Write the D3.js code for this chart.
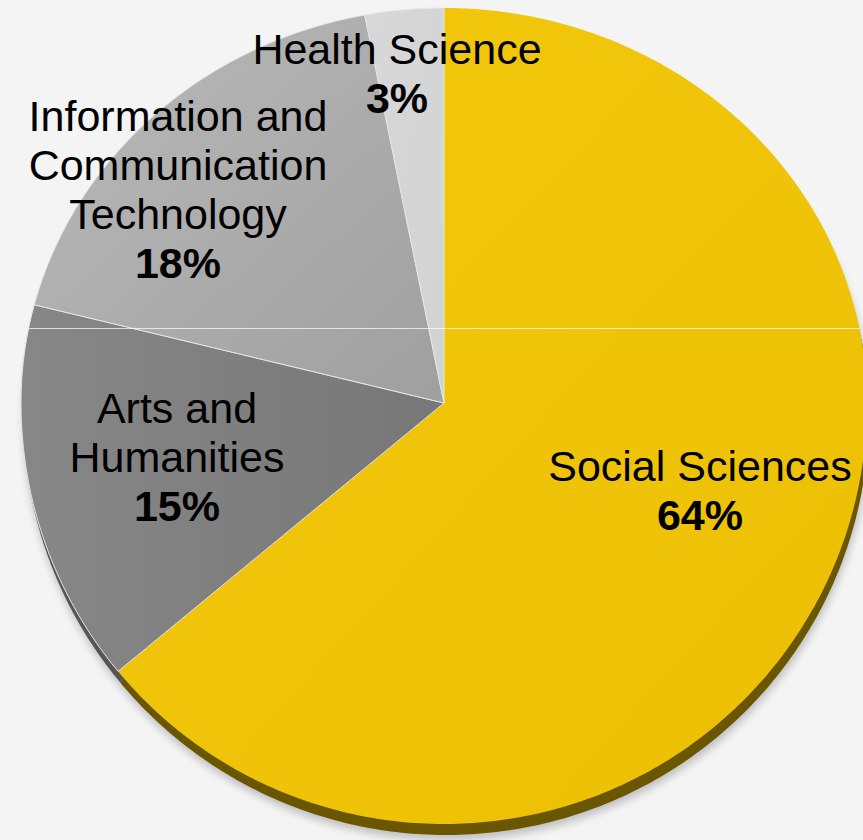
<!DOCTYPE html>
<html>
<head>
<meta charset="utf-8">
<script src="https://cdn.jsdelivr.net/npm/d3@7"></script>
<style>
  html, body { margin: 0; padding: 0; background: #f4f4f4; }
  svg { display: block; }
  text { font-family: "Liberation Sans", Arial, sans-serif; fill: #000; }
</style>
</head>
<body>
<svg id="chart" width="863" height="840"></svg>
<script>
// ---- data ----
const categories = ["Social Sciences", "Arts and Humanities", "Information and Communication Technology", "Health Science"];
const values = [64, 15, 18, 3];
const labelLines = [
  ["Social Sciences"],
  ["Arts and", "Humanities"],
  ["Information and", "Communication", "Technology"],
  ["Health Science"]
];
const percentLabels = ["64%", "15%", "18%", "3%"];

// ---- layout ----
const W = 863, H = 840;
const cx = 444, cy = 403;
const rx = 423, ryTop = 395, ryBot = 421;
const fills = ["url(#gY)", "url(#gA)", "url(#gI)", "url(#gH)"];
const sideFills = ["#6a5600", "#555555", "#666666", "#888888"];
const labelPos = [
  { x: 700, y: 481 },
  { x: 177, y: 423 },
  { x: 178, y: 131 },
  { x: 397, y: 64 }
];
const lineH = 49;

const svg = d3.select("#chart");
svg.append("rect").attr("width", W).attr("height", H).attr("fill", "#f4f4f4");

const defs = svg.append("defs");
function lin(id, x1, y1, x2, y2, stops) {
  const g = defs.append("linearGradient").attr("id", id)
    .attr("x1", x1).attr("y1", y1).attr("x2", x2).attr("y2", y2);
  stops.forEach(s => g.append("stop").attr("offset", s[0]).attr("stop-color", s[1]));
}
lin("gY", "0", "0", "1", "1", [[0, "#f3c90c"], [1, "#ecbf04"]]);
lin("gA", "0", "0", "1", "0", [[0, "#878787"], [1, "#777777"]]);
lin("gI", "0", "0", "1", "1", [[0, "#bababa"], [1, "#9f9f9f"]]);
lin("gH", "0", "0", "1", "1", [[0, "#d8d8d8"], [1, "#d2d2d2"]]);
const f = defs.append("filter").attr("id", "blur").attr("x", "-10%").attr("y", "-10%").attr("width", "120%").attr("height", "120%");
f.append("feGaussianBlur").attr("stdDeviation", 4);

const pie = d3.pie().sort(null).value(d => d)(values);

function pt(a, ox = 0, oy = 0) {
  const c = Math.cos(a), s = Math.sin(a);
  const ry = c > 0 ? ryTop : ryBot;
  return [cx + ox + rx * s, cy + oy - ry * c];
}
function slicePath(d, ox = 0, oy = 0) {
  const p = d3.path();
  p.moveTo(cx + ox, cy + oy);
  const n = Math.max(8, Math.ceil((d.endAngle - d.startAngle) * 80));
  for (let i = 0; i <= n; i++) {
    const a = d.startAngle + (d.endAngle - d.startAngle) * i / n;
    const q = pt(a, ox, oy);
    p.lineTo(q[0], q[1]);
  }
  p.closePath();
  return p.toString();
}
const whole = { startAngle: 0, endAngle: 2 * Math.PI };

// soft shadow
svg.append("path").attr("d", slicePath(whole, 3, 16))
  .attr("fill", "#000").attr("opacity", 0.22).attr("filter", "url(#blur)");

// extrusion (side)
svg.append("g").selectAll("path").data(pie).join("path")
  .attr("d", d => slicePath(d, 2, 11))
  .attr("fill", (d, i) => sideFills[i]);

// top faces
svg.append("g").selectAll("path").data(pie).join("path")
  .attr("d", d => slicePath(d))
  .attr("fill", (d, i) => fills[i])
  .attr("stroke", (d, i) => i === 0 ? "none" : "#e6e6e6")
  .attr("stroke-width", 1)
  .attr("stroke-linejoin", "round");

// faint horizontal highlight line across the pie
defs.append("clipPath").attr("id", "pieClip").append("path").attr("d", slicePath(whole));
svg.append("line").attr("x1", 0).attr("x2", W).attr("y1", 328.5).attr("y2", 328.5)
  .attr("stroke", "#ffffff").attr("stroke-opacity", 0.7).attr("stroke-width", 1)
  .attr("clip-path", "url(#pieClip)");

// labels
const lg = svg.append("g");
pie.forEach((d, i) => {
  const t = lg.append("text").attr("text-anchor", "middle").attr("font-size", 43);
  labelLines[i].forEach((s, j) => {
    t.append("tspan").attr("x", labelPos[i].x).attr("y", labelPos[i].y + j * lineH).text(s);
  });
  t.append("tspan").attr("x", labelPos[i].x)
    .attr("y", labelPos[i].y + labelLines[i].length * lineH)
    .attr("font-weight", "bold").text(percentLabels[i]);
});
</script>
</body>
</html>
